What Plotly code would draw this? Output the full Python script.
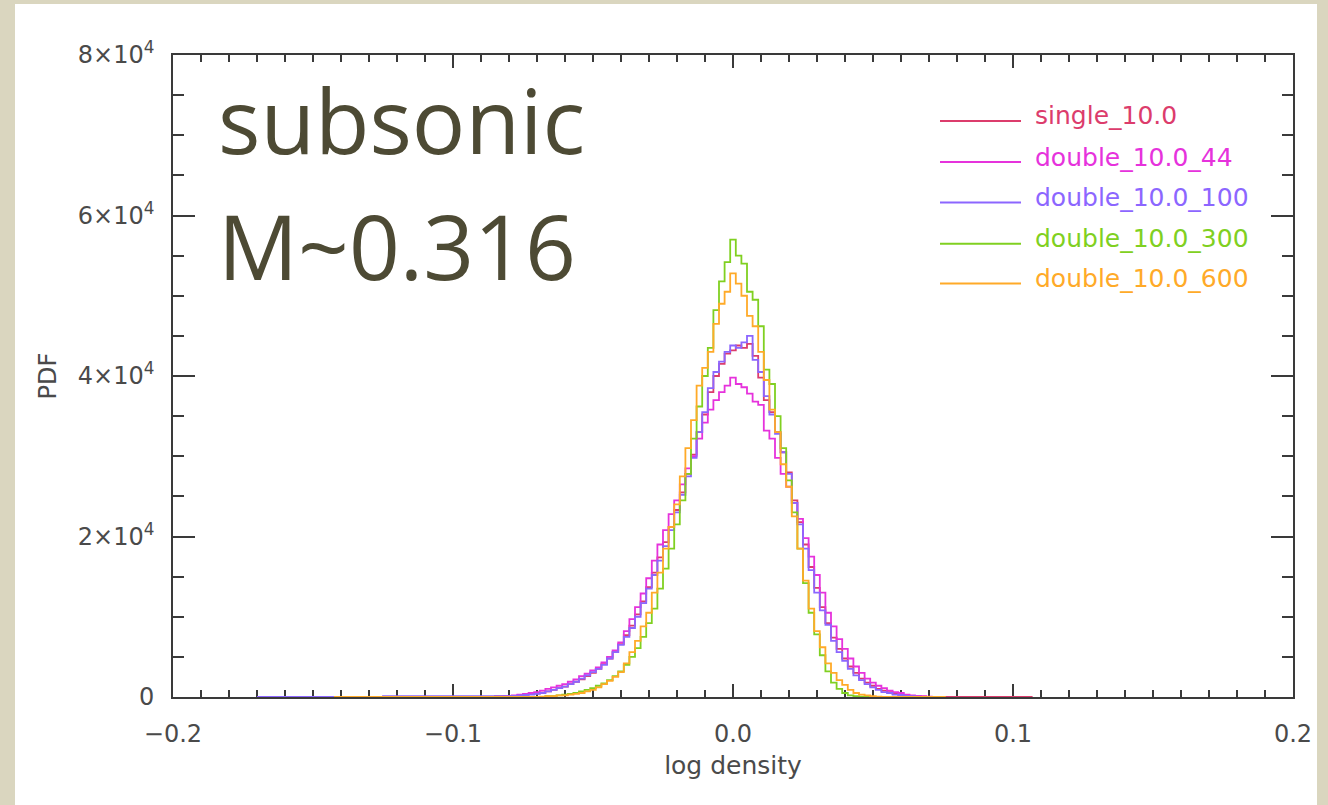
import plotly.graph_objects as go

# ---------------- data (PDF values in units of 1e4) ----------------
bin_centers = [
    -0.080, -0.078, -0.076, -0.074, -0.072, -0.070, -0.068, -0.066, -0.064, -0.062,
    -0.060, -0.058, -0.056, -0.054, -0.052, -0.050, -0.048, -0.046, -0.044, -0.042,
    -0.040, -0.038, -0.036, -0.034, -0.032, -0.030, -0.028, -0.026, -0.024, -0.022,
    -0.020, -0.018, -0.016, -0.014, -0.012, -0.010, -0.008, -0.006, -0.004, -0.002,
    0.000, 0.002, 0.004, 0.006, 0.008, 0.010, 0.012, 0.014, 0.016, 0.018,
    0.020, 0.022, 0.024, 0.026, 0.028, 0.030, 0.032, 0.034, 0.036, 0.038,
    0.040, 0.042, 0.044, 0.046, 0.048, 0.050, 0.052, 0.054, 0.056, 0.058,
    0.060, 0.062, 0.064, 0.066, 0.068, 0.070,
]

pdf_single_10 = [
    0.01, 0.015, 0.02, 0.03, 0.035, 0.045, 0.055, 0.07, 0.09, 0.11,
    0.13, 0.16, 0.19, 0.22, 0.26, 0.30, 0.35, 0.41, 0.48, 0.56,
    0.66, 0.77, 0.89, 1.03, 1.19, 1.37, 1.55, 1.74, 1.93, 2.12,
    2.33, 2.55, 2.78, 3.02, 3.30, 3.52, 3.80, 4.00, 4.15, 4.28,
    4.32, 4.38, 4.35, 4.40, 4.25, 3.98, 3.70, 3.55, 3.30, 3.05,
    2.80, 2.45, 2.18, 1.90, 1.62, 1.36, 1.12, 0.92, 0.74, 0.60,
    0.48, 0.38, 0.30, 0.23, 0.18, 0.14, 0.10, 0.08, 0.06, 0.04,
    0.03, 0.02, 0.015, 0.01, 0.005, 0.0,
]
pdf_double_44 = [
    0.01, 0.02, 0.03, 0.04, 0.05, 0.06, 0.08, 0.10, 0.12, 0.14,
    0.16, 0.19, 0.22, 0.26, 0.29, 0.33, 0.37, 0.43, 0.50, 0.58,
    0.68, 0.82, 0.97, 1.12, 1.29, 1.48, 1.70, 1.90, 2.08, 2.28,
    2.45, 2.65, 2.85, 3.00, 3.22, 3.42, 3.58, 3.70, 3.80, 3.88,
    3.98, 3.90, 3.86, 3.78, 3.68, 3.64, 3.32, 3.22, 2.98, 2.78,
    2.62, 2.42, 2.22, 1.98, 1.75, 1.52, 1.30, 1.05, 0.88, 0.72,
    0.60, 0.48, 0.38, 0.30, 0.23, 0.18, 0.14, 0.11, 0.08, 0.06,
    0.05, 0.03, 0.02, 0.015, 0.01, 0.005,
]
pdf_double_100 = [
    0.01, 0.015, 0.02, 0.025, 0.03, 0.04, 0.05, 0.07, 0.09, 0.11,
    0.13, 0.16, 0.19, 0.23, 0.27, 0.31, 0.35, 0.40, 0.48, 0.56,
    0.65, 0.75, 0.86, 1.00, 1.17, 1.35, 1.52, 1.70, 1.88, 2.08,
    2.30, 2.52, 2.75, 2.98, 3.30, 3.55, 3.85, 4.05, 4.18, 4.30,
    4.38, 4.35, 4.42, 4.50, 4.20, 4.05, 3.75, 3.52, 3.28, 3.05,
    2.78, 2.42, 2.15, 1.85, 1.58, 1.30, 1.08, 0.90, 0.70, 0.56,
    0.45, 0.35, 0.27, 0.21, 0.16, 0.12, 0.09, 0.06, 0.05, 0.03,
    0.025, 0.015, 0.01, 0.005, 0.0, 0.0,
]
pdf_double_300 = [
    0.0, 0.0, 0.0, 0.0, 0.0, 0.0, 0.0, 0.01, 0.01, 0.02,
    0.03, 0.04, 0.05, 0.07, 0.09, 0.11, 0.14, 0.17, 0.21, 0.26,
    0.32, 0.40, 0.50, 0.61, 0.75, 0.92, 1.10, 1.35, 1.60, 1.85,
    2.15, 2.45, 2.78, 3.22, 3.62, 4.00, 4.35, 4.82, 5.18, 5.42,
    5.70, 5.50, 5.40, 5.05, 4.95, 4.62, 4.08, 3.90, 3.50, 3.10,
    2.70, 2.30, 1.85, 1.42, 1.05, 0.78, 0.52, 0.32, 0.18, 0.10,
    0.05, 0.02, 0.01, 0.005, 0.0, 0.0, 0.0, 0.0, 0.0, 0.0,
    0.0, 0.0, 0.0, 0.0, 0.0, 0.0,
]
pdf_double_600 = [
    0.0, 0.0, 0.0, 0.0, 0.0, 0.0, 0.005, 0.01, 0.01, 0.02,
    0.02, 0.03, 0.04, 0.05, 0.07, 0.09, 0.12, 0.16, 0.20, 0.25,
    0.31, 0.42, 0.56, 0.70, 0.88, 1.05, 1.30, 1.55, 1.85, 2.12,
    2.40, 2.75, 3.10, 3.45, 3.88, 4.10, 4.30, 4.65, 4.90, 5.05,
    5.28, 5.15, 5.00, 4.75, 4.62, 4.30, 3.95, 3.58, 3.30, 2.90,
    2.62, 2.25, 1.85, 1.45, 1.10, 0.82, 0.62, 0.42, 0.30, 0.21,
    0.15, 0.09, 0.05, 0.03, 0.02, 0.01, 0.005, 0.0, 0.0, 0.0,
    0.0, 0.0, 0.0, 0.0, 0.0, 0.0,
]

series_names = ["single_10.0", "double_10.0_44", "double_10.0_100",
                "double_10.0_300", "double_10.0_600"]
series_values = [pdf_single_10, pdf_double_44, pdf_double_100,
                 pdf_double_300, pdf_double_600]
# extent of each histogram (where it sits at zero)
range_left = [-0.090, -0.084, -0.170, -0.078, -0.1425]
range_right = [0.107, 0.072, 0.068, 0.052, 0.076]

x_ticks = [-0.2, -0.1, 0.0, 0.1, 0.2]
x_ticktext = ["\u22120.2", "\u22120.1", "0.0", "0.1", "0.2"]
y_ticks = [0, 20000, 40000, 60000, 80000]
y_ticktext = ["0", "2\u00d710<sup>4</sup>", "4\u00d710<sup>4</sup>",
              "6\u00d710<sup>4</sup>", "8\u00d710<sup>4</sup>"]

# ---------------- style ----------------
colors = ["#dc3c6c", "#e632dc", "#8c66ff", "#80d021", "#ffaa28"]
axis_col = "#3a3a3a"
label_col = "#4a4a4a"
FONT = "DejaVu Sans"
BEIGE = "#dad6bf"

W, H = 1328, 805
L, R, T, B = 173, 35, 55, 108
PW, PH = W - L - R, H - T - B


def px_x(px):
    return (px - L) / PW


def px_y(py):
    return (H - B - py) / PH


fig = go.Figure()
for name, vals, col, xl, xr in zip(series_names, series_values, colors,
                                   range_left, range_right):
    xs = [xl] + bin_centers + [xr]
    ys = [0.0] + [v * 1e4 for v in vals] + [0.0]
    fig.add_trace(go.Scatter(
        x=xs, y=ys, mode="lines", name=name,
        line=dict(color=col, width=1.8, shape="hvh"),
        showlegend=False,
    ))

axis_common = dict(
    showline=True, linecolor=axis_col, linewidth=1.6, mirror="ticks",
    ticks="inside", tickcolor=axis_col, tickwidth=1.6,
    showgrid=False, zeroline=False, layer="below traces",
    tickfont=dict(family=FONT, size=24, color=label_col),
)

fig.update_xaxes(
    range=[-0.2, 0.2], tickvals=x_ticks, ticktext=x_ticktext, ticklen=13,
    minor=dict(ticks="inside", dtick=0.01, tick0=0, ticklen=7,
               tickwidth=1.6, tickcolor=axis_col, showgrid=False),
    ticklabelstandoff=14,
    title=dict(text="log density", standoff=10,
               font=dict(family=FONT, size=25, color=label_col)),
    **axis_common,
)
fig.update_yaxes(
    range=[0, 80000], tickvals=y_ticks, ticktext=y_ticktext, ticklen=22,
    minor=dict(ticks="inside", dtick=5000, tick0=0, ticklen=11,
               tickwidth=1.6, tickcolor=axis_col, showgrid=False),
    ticklabelstandoff=12,
    title=dict(text="PDF", standoff=14,
               font=dict(family=FONT, size=24, color=label_col)),
    **axis_common,
)

shapes = [dict(type="rect", xref="paper", yref="paper", layer="below",
               x0=px_x(15), x1=px_x(1317), y0=px_y(812), y1=px_y(4),
               fillcolor="white", line=dict(width=0))]
annotations = []

# legend drawn IDL-style: line sample + coloured label
leg_y = [121, 162, 202.5, 243.7, 283.6]
for name, col, ly in zip(series_names, colors, leg_y):
    shapes.append(dict(type="line", xref="paper", yref="paper",
                       x0=px_x(940), x1=px_x(1021), y0=px_y(ly), y1=px_y(ly),
                       line=dict(color=col, width=2)))
    annotations.append(dict(xref="paper", yref="paper", x=px_x(1033),
                            y=px_y(ly - 5), xanchor="left", yanchor="middle",
                            text=name, showarrow=False,
                            font=dict(family=FONT, size=25, color=col)))

big_font = dict(family="Open Sans", size=89, color="#4d4a34")
annotations.append(dict(xref="paper", yref="paper", x=px_x(216), y=px_y(119),
                        xanchor="left", yanchor="middle", text="subsonic",
                        showarrow=False, font=big_font))
annotations.append(dict(xref="paper", yref="paper", x=px_x(216), y=px_y(246),
                        xanchor="left", yanchor="middle", text="M~0.316",
                        showarrow=False, font=big_font))

fig.update_layout(
    width=W, height=H, autosize=False,
    margin=dict(l=L, r=R, t=T, b=B),
    paper_bgcolor=BEIGE, plot_bgcolor="white",
    shapes=shapes, annotations=annotations, showlegend=False,
)

fig.write_html(
    "out.html",
    config={"displayModeBar": False},
    post_script=("document.body.style.margin='0';"
                 "document.body.style.background='" + BEIGE + "';"
                 "document.body.style.overflow='hidden';"),
)
